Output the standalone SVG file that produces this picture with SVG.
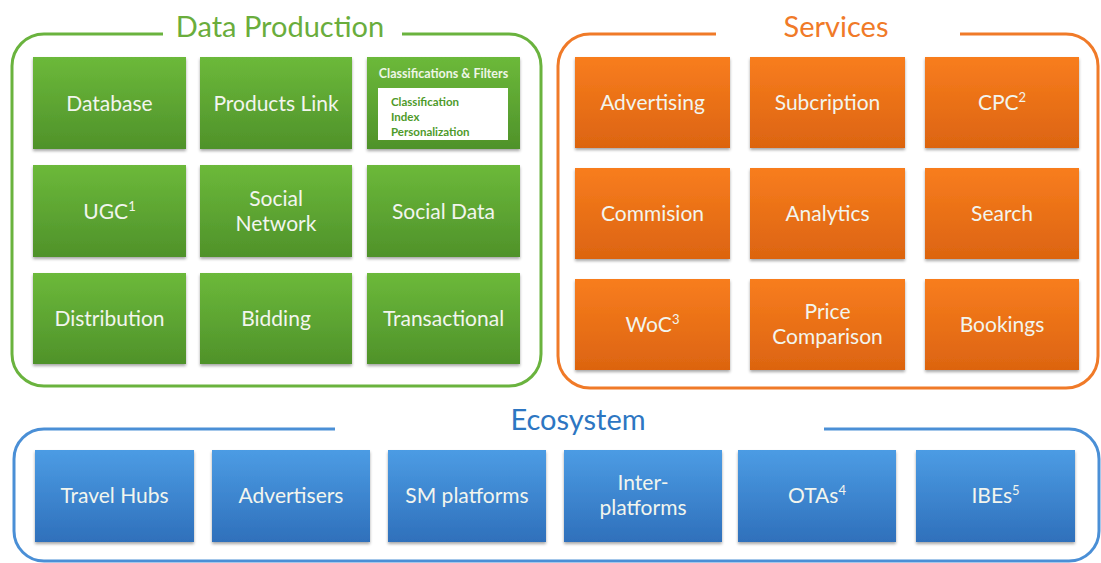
<svg xmlns="http://www.w3.org/2000/svg" width="1101" height="563" viewBox="0 0 1101 563">
<defs>
<linearGradient id="gG" x1="0" y1="0" x2="0" y2="1"><stop offset="0" stop-color="#6cb93a"/><stop offset="1" stop-color="#4f922a"/></linearGradient>
<linearGradient id="gO" x1="0" y1="0" x2="0" y2="1"><stop offset="0" stop-color="#f87d1e"/><stop offset="1" stop-color="#dc6410"/></linearGradient>
<linearGradient id="gB" x1="0" y1="0" x2="0" y2="1"><stop offset="0" stop-color="#4c9ce4"/><stop offset="1" stop-color="#2f70bb"/></linearGradient>
<filter id="sh" x="-10%" y="-10%" width="120%" height="125%"><feDropShadow dx="0" dy="2" stdDeviation="1.6" flood-color="#000" flood-opacity="0.35"/></filter>
</defs>
<style>
.t{font-family:Lato,"Open Sans","Liberation Sans",sans-serif;font-size:21px;fill:#f2f5ee;text-anchor:middle}
.title{font-family:Lato,"Open Sans","Liberation Sans",sans-serif;font-size:29px;text-anchor:middle}
.g rect.b{fill:url(#gG);filter:url(#sh)}
.o rect.b{fill:url(#gO);filter:url(#sh)}
.bl rect.b{fill:url(#gB);filter:url(#sh)}
.frame{fill:none;stroke-width:3}
.sm{font-family:Lato,"Open Sans","Liberation Sans",sans-serif;font-weight:bold;font-size:11.5px}
.hd{font-family:Lato,"Open Sans","Liberation Sans",sans-serif;font-weight:bold;font-size:12.5px}
.sup{font-size:13px}
</style>
<rect width="1101" height="563" fill="#ffffff"/>
<g id="frames">
<path class="frame" stroke="#6ab33e" d="M163,34 H44 A32,32 0 0 0 12,66 V354 A32,32 0 0 0 44,386 H509 A32,32 0 0 0 541,354 V66 A32,32 0 0 0 509,34 H402"/>
<path class="frame" stroke="#f07a28" d="M716,34 H590 A32,32 0 0 0 558,66 V356 A32,32 0 0 0 590,388 H1066 A32,32 0 0 0 1098,356 V66 A32,32 0 0 0 1066,34 H960"/>
<path class="frame" stroke="#4a8fd6" d="M335,429 H44 A30,30 0 0 0 14,459 V531 A30,30 0 0 0 44,561 H1069 A30,30 0 0 0 1099,531 V459 A30,30 0 0 0 1069,429 H824"/>
<text class="title" x="280" y="37" fill="#6aad3c">Data Production</text>
<text class="title" x="836" y="37" fill="#f07a28">Services</text>
<text class="title" x="578" y="430" fill="#2d76c2">Ecosystem</text>
</g>
<g id="connectors"></g>
<g class="g">
<g id="database"><rect class="b" x="33" y="57" width="153" height="92"/><text class="t" x="109.5" y="111">Database</text></g>
<g id="products-link"><rect class="b" x="200" y="57" width="152" height="92"/><text class="t" x="276" y="111">Products Link</text></g>
<g id="classifications"><rect class="b" x="367" y="57" width="153" height="92"/>
<text class="hd" x="443.5" y="78" fill="#eef6e6" text-anchor="middle">Classifications &amp; Filters</text>
<rect x="378" y="88" width="130" height="52" fill="#ffffff"/>
<text class="sm" x="391" y="106" fill="#4e9a2a">Classification</text>
<text class="sm" x="391" y="121" fill="#4e9a2a">Index</text>
<text class="sm" x="391" y="136" fill="#4e9a2a">Personalization</text></g>
<g id="ugc"><rect class="b" x="33" y="165" width="153" height="92"/><text class="t" x="109.5" y="219">UGC<tspan class="sup" dy="-8">1</tspan></text></g>
<g id="social-network"><rect class="b" x="200" y="165" width="152" height="92"/><text class="t" x="276" y="206">Social</text><text class="t" x="276" y="231">Network</text></g>
<g id="social-data"><rect class="b" x="367" y="165" width="153" height="92"/><text class="t" x="443.5" y="219">Social Data</text></g>
<g id="distribution"><rect class="b" x="33" y="273" width="153" height="91"/><text class="t" x="109.5" y="326">Distribution</text></g>
<g id="bidding"><rect class="b" x="200" y="273" width="152" height="91"/><text class="t" x="276" y="326">Bidding</text></g>
<g id="transactional"><rect class="b" x="367" y="273" width="153" height="91"/><text class="t" x="443.5" y="326">Transactional</text></g>
</g>
<g class="o">
<g id="advertising"><rect class="b" x="575" y="57" width="155" height="91"/><text class="t" x="652.5" y="110">Advertising</text></g>
<g id="subcription"><rect class="b" x="750" y="57" width="155" height="91"/><text class="t" x="827.5" y="110">Subcription</text></g>
<g id="cpc"><rect class="b" x="925" y="57" width="154" height="91"/><text class="t" x="1002" y="110">CPC<tspan class="sup" dy="-8">2</tspan></text></g>
<g id="commision"><rect class="b" x="575" y="168" width="155" height="91"/><text class="t" x="652.5" y="221">Commision</text></g>
<g id="analytics"><rect class="b" x="750" y="168" width="155" height="91"/><text class="t" x="827.5" y="221">Analytics</text></g>
<g id="search"><rect class="b" x="925" y="168" width="154" height="91"/><text class="t" x="1002" y="221">Search</text></g>
<g id="woc"><rect class="b" x="575" y="279" width="155" height="91"/><text class="t" x="652.5" y="332">WoC<tspan class="sup" dy="-8">3</tspan></text></g>
<g id="price-comparison"><rect class="b" x="750" y="279" width="155" height="91"/><text class="t" x="827.5" y="319">Price</text><text class="t" x="827.5" y="344">Comparison</text></g>
<g id="bookings"><rect class="b" x="925" y="279" width="154" height="91"/><text class="t" x="1002" y="332">Bookings</text></g>
</g>
<g class="bl">
<g id="travel-hubs"><rect class="b" x="35" y="450" width="159" height="92"/><text class="t" x="114.5" y="503">Travel Hubs</text></g>
<g id="advertisers"><rect class="b" x="212" y="450" width="158" height="92"/><text class="t" x="291" y="503">Advertisers</text></g>
<g id="sm-platforms"><rect class="b" x="388" y="450" width="158" height="92"/><text class="t" x="467" y="503">SM platforms</text></g>
<g id="inter-platforms"><rect class="b" x="564" y="450" width="158" height="92"/><text class="t" x="643" y="490">Inter-</text><text class="t" x="643" y="515">platforms</text></g>
<g id="otas"><rect class="b" x="738" y="450" width="158" height="92"/><text class="t" x="817" y="503">OTAs<tspan class="sup" dy="-8">4</tspan></text></g>
<g id="ibes"><rect class="b" x="916" y="450" width="159" height="92"/><text class="t" x="995.5" y="503">IBEs<tspan class="sup" dy="-8">5</tspan></text></g>
</g>
</svg>
